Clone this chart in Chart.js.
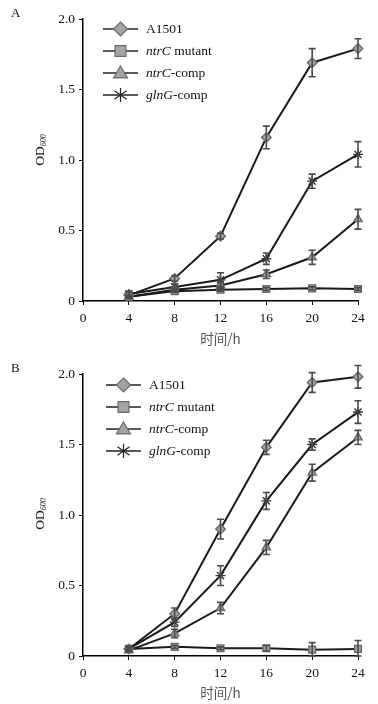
<!DOCTYPE html>
<html>
<head>
<meta charset="utf-8">
<script src="https://cdn.jsdelivr.net/npm/chart.js@4.4.1/dist/chart.umd.min.js"></script>
<style>
  html, body { margin: 0; padding: 0; background: #fff; }
  .wrap { position: absolute; left: 0; width: 378px; height: 352px; }
  #wa { top: 0; }
  #wb { top: 352px; }
</style>
</head>
<body>
<div class="wrap" id="wa"><canvas id="chartA" width="378" height="352"></canvas></div>
<div class="wrap" id="wb"><canvas id="chartB" width="378" height="352"></canvas></div>
<script>
'use strict'

// time points (h)
const hours = [4, 8, 12, 16, 20, 24];
const xTicks = [0, 4, 8, 12, 16, 20, 24];
const yTicks = [0, 0.5, 1.0, 1.5, 2.0];

// panel A
const a_A1501 = [0.04, 0.16, 0.46, 1.16, 1.69, 1.79];
const a_A1501Err = [0.02, 0.02, 0.02, 0.08, 0.10, 0.07];
const a_mutant = [0.03, 0.07, 0.08, 0.085, 0.09, 0.085];
const a_mutantErr = [0.01, 0.01, 0.01, 0.01, 0.01, 0.01];
const a_ntrC = [0.03, 0.08, 0.11, 0.19, 0.31, 0.58];
const a_ntrCErr = [0.01, 0.01, 0.03, 0.03, 0.05, 0.07];
const a_glnG = [0.05, 0.10, 0.15, 0.30, 0.85, 1.04];
const a_glnGErr = [0.02, 0.02, 0.05, 0.04, 0.05, 0.09];

// panel B
const b_A1501 = [0.05, 0.30, 0.90, 1.48, 1.94, 1.98];
const b_A1501Err = [0.02, 0.04, 0.07, 0.05, 0.07, 0.08];
const b_mutant = [0.05, 0.065, 0.055, 0.055, 0.045, 0.05];
const b_mutantErr = [0.01, 0.01, 0.01, 0.02, 0.05, 0.06];
const b_ntrC = [0.04, 0.16, 0.34, 0.77, 1.30, 1.55];
const b_ntrCErr = [0.01, 0.03, 0.04, 0.05, 0.06, 0.05];
const b_glnG = [0.05, 0.24, 0.57, 1.10, 1.50, 1.73];
const b_glnGErr = [0.01, 0.03, 0.07, 0.06, 0.04, 0.08];

// legend text: [italic part, normal part]
const legendParts = [
    ['', 'A1501'],
    ['ntrC', ' mutant'],
    ['ntrC', '-comp'],
    ['glnG', '-comp']
];
const styles = ['rectRot', 'rect', 'triangle', 'star'];

const serif = '"Liberation Serif", "DejaVu Serif", serif';
const markFill = '#a4a4a4';
const markEdge = '#6a6a6a';

// own marker drawing for the legend
const drawMarker = (ctx, style, x, y, r) => {
    ctx.save();
    ctx.fillStyle = markFill;
    ctx.strokeStyle = markEdge;
    ctx.lineWidth = 1.2;
    ctx.beginPath();
    if (style === 'rectRot') {
        ctx.moveTo(x, y - r); ctx.lineTo(x + r, y); ctx.lineTo(x, y + r); ctx.lineTo(x - r, y);
        ctx.closePath(); ctx.fill(); ctx.stroke();
    } else if (style === 'rect') {
        const s = r * 0.78;
        ctx.rect(x - s, y - s, 2 * s, 2 * s); ctx.fill(); ctx.stroke();
    } else if (style === 'triangle') {
        ctx.moveTo(x, y - r); ctx.lineTo(x + r, y + r * 0.7); ctx.lineTo(x - r, y + r * 0.7);
        ctx.closePath(); ctx.fill(); ctx.stroke();
    } else {
        ctx.strokeStyle = '#222';
        ctx.lineWidth = 1.2;
        ctx.moveTo(x, y - r); ctx.lineTo(x, y + r);
        ctx.moveTo(x - r * 0.87, y - r * 0.6); ctx.lineTo(x + r * 0.87, y + r * 0.6);
        ctx.moveTo(x + r * 0.87, y - r * 0.6); ctx.lineTo(x - r * 0.87, y + r * 0.6);
        ctx.stroke();
    }
    ctx.restore();
};

// error bars, panel letter, legend and OD600 title
const decor = {
    id: 'decor',
    afterDatasetsDraw(chart, args, opts) {
        const ctx = chart.ctx;
        const ys = chart.scales.y;
        const xs = chart.scales.x;
        ctx.save();
        ctx.strokeStyle = '#4a4a4a';
        ctx.lineWidth = 1.6;
        chart.data.datasets.forEach(ds => {
            ds.errors.forEach((e, i) => {
                const px = xs.getPixelForValue(ds.data[i].x);
                const top = ys.getPixelForValue(ds.data[i].y + e);
                const bot = ys.getPixelForValue(Math.max(ds.data[i].y - e, 0));
                ctx.beginPath();
                ctx.moveTo(px, top); ctx.lineTo(px, bot);
                ctx.moveTo(px - 3.5, top); ctx.lineTo(px + 3.5, top);
                ctx.moveTo(px - 3.5, bot); ctx.lineTo(px + 3.5, bot);
                ctx.stroke();
            });
        });
        ctx.restore();
    },
    afterDraw(chart, args, opts) {
        const ctx = chart.ctx;
        ctx.save();
        ctx.fillStyle = '#111';
        ctx.textBaseline = 'middle';
        ctx.textAlign = 'left';
        ctx.font = '13px ' + serif;
        ctx.fillText(opts.letter, 11, opts.letterY);

        // legend
        legendParts.forEach((p, i) => {
            const y = opts.legendY + i * 22;
            const lx = opts.legendX;
            ctx.strokeStyle = '#222';
            ctx.lineWidth = 1.6;
            ctx.beginPath();
            ctx.moveTo(lx, y); ctx.lineTo(lx + 35, y);
            ctx.stroke();
            drawMarker(ctx, styles[i], lx + 17.5, y, 7);
            let tx = lx + 43;
            ctx.fillStyle = '#111';
            if (p[0]) {
                ctx.font = 'italic 13.5px ' + serif;
                ctx.fillText(p[0], tx, y);
                tx += ctx.measureText(p[0]).width;
            }
            ctx.font = '13.5px ' + serif;
            ctx.fillText(p[1], tx, y);
        });

        // OD600 y title
        ctx.translate(40, opts.titleY);
        ctx.rotate(-Math.PI / 2);
        ctx.font = '13.5px ' + serif;
        const w1 = ctx.measureText('OD').width;
        ctx.font = 'italic 8px ' + serif;
        const w2 = ctx.measureText('600').width;
        const start = -(w1 + w2) / 2;
        ctx.font = '13.5px ' + serif;
        ctx.fillText('OD', start, 0);
        ctx.font = 'italic 8px ' + serif;
        ctx.fillText('600', start + w1, 4);
        ctx.restore();
    }
};

const makeSets = (vals, errs) => vals.map((v, k) => ({
    label: legendParts[k].join(''),
    data: hours.map((h, i) => ({ x: h, y: v[i] })),
    errors: errs[k],
    borderColor: '#1a1a1a',
    borderWidth: 2,
    pointStyle: styles[k],
    pointRadius: k === 3 ? 5 : 4.8,
    pointBackgroundColor: markFill,
    pointBorderColor: k === 3 ? '#333' : markEdge,
    pointBorderWidth: 1.4,
    fill: false,
    tension: 0,
    clip: false
}));

const makeChart = (id, sets, deco, padTop, xHeight, titleBottom) => {
    new Chart(document.getElementById(id), {
        type: 'line',
        data: { datasets: sets },
        options: {
            responsive: false,
            animation: false,
            devicePixelRatio: 1,
            layout: { padding: { top: padTop, right: 20, left: 0, bottom: 0 } },
            plugins: {
                legend: { display: false },
                tooltip: { enabled: false },
                decor: deco
            },
            scales: {
                x: {
                    type: 'linear',
                    min: 0,
                    max: 24,
                    afterBuildTicks: s => { s.ticks = xTicks.map(v => ({ value: v })); },
                    afterFit: s => { s.height = xHeight; },
                    ticks: { color: '#111', font: { family: serif, size: 13.5 }, padding: 5, maxRotation: 0 },
                    grid: { drawOnChartArea: false, drawTicks: true, tickLength: 4, color: '#000' },
                    border: { color: '#000', width: 1.5 },
                    title: {
                        display: true,
                        text: '时间/h',
                        color: '#555',
                        font: { family: '"Noto Sans CJK SC", sans-serif', size: 13.5 },
                        padding: { top: 2, bottom: titleBottom }
                    }
                },
                y: {
                    min: 0,
                    max: 2,
                    afterBuildTicks: s => { s.ticks = yTicks.map(v => ({ value: v })); },
                    afterFit: s => { s.width = 83; },
                    ticks: {
                        color: '#111',
                        font: { family: serif, size: 13.5 },
                        padding: 4,
                        callback: v => v === 0 ? '0' : v.toFixed(1)
                    },
                    grid: { drawOnChartArea: false, drawTicks: true, tickLength: 4, color: '#000' },
                    border: { color: '#000', width: 1.5 }
                }
            }
        },
        plugins: [decor]
    });
};

makeChart('chartA',
    makeSets([a_A1501, a_mutant, a_ntrC, a_glnG], [a_A1501Err, a_mutantErr, a_ntrCErr, a_glnGErr]),
    { letter: 'A', letterY: 14, legendX: 103, legendY: 29, titleY: 150 },
    19, 51, 5);

makeChart('chartB',
    makeSets([b_A1501, b_mutant, b_ntrC, b_glnG], [b_A1501Err, b_mutantErr, b_ntrCErr, b_glnGErr]),
    { letter: 'B', letterY: 17, legendX: 106, legendY: 33, titleY: 162 },
    22, 48, 3);
</script>
</body>
</html>
